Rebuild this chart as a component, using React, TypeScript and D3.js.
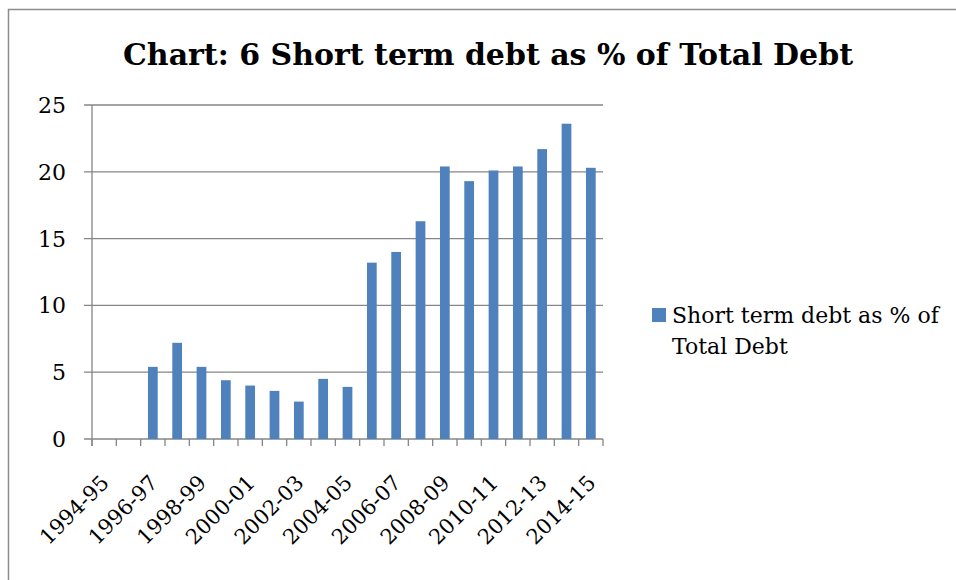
import React, { useEffect, useRef } from "react";
import * as d3 from "d3";

const years = [
  "1994-95", "1995-96", "1996-97", "1997-98", "1998-99", "1999-00", "2000-01",
  "2001-02", "2002-03", "2003-04", "2004-05", "2005-06", "2006-07", "2007-08",
  "2008-09", "2009-10", "2010-11", "2011-12", "2012-13", "2013-14", "2014-15",
];

// null = no value reported for that year
const shortTermShare: (number | null)[] = [
  null, null, 5.4, 7.2, 5.4, 4.4, 4.0, 3.6, 2.8, 4.5, 3.9,
  13.2, 14.0, 16.3, 20.4, 19.3, 20.1, 20.4, 21.7, 23.6, 20.3,
];

const yTicks = [0, 5, 10, 15, 20, 25];

const legendLines = ["Short term debt as % of", "Total Debt"];
const chartTitle = "Chart: 6 Short term debt as % of Total Debt";

const WIDTH = 956;
const HEIGHT = 580;
const margin = { top: 105, right: 353, bottom: 141, left: 92 };
const GRID = "#868686";
const BAR = "#4F81BD";
const FONT = "'DejaVu Serif', serif";

type Row = { year: string; value: number | null };

export default function App() {
  const ref = useRef<SVGSVGElement>(null);

  useEffect(() => {
    const svg = d3.select(ref.current!);
    svg.selectAll("*").remove();

    const rows: Row[] = years.map((year, i) => ({ year, value: shortTermShare[i] }));
    const innerW = WIDTH - margin.left - margin.right;
    const innerH = HEIGHT - margin.top - margin.bottom;

    const x = d3
      .scaleBand<string>()
      .domain(years)
      .range([margin.left, margin.left + innerW])
      .paddingInner(0.6)
      .paddingOuter(0.3);
    const step = x.step();

    const y = d3
      .scaleLinear()
      .domain([0, 25])
      .range([margin.top + innerH, margin.top]);

    // chart frame (cropped at right/bottom like the original)
    svg
      .append("rect")
      .attr("x", 8.5)
      .attr("y", 9.5)
      .attr("width", 1000)
      .attr("height", 1000)
      .attr("fill", "white")
      .attr("stroke", "#8c8c8c")
      .attr("stroke-width", 1.5);

    svg
      .append("text")
      .attr("x", 488)
      .attr("y", 65)
      .attr("text-anchor", "middle")
      .attr("font-family", FONT)
      .attr("font-weight", "bold")
      .attr("font-size", 30)
      .attr("textLength", 730)
      .attr("lengthAdjust", "spacingAndGlyphs")
      .text(chartTitle);

    // gridlines + y ticks
    svg
      .append("g")
      .attr("class", "grid")
      .selectAll("line")
      .data(yTicks)
      .enter()
      .append("line")
      .attr("x1", margin.left - 8)
      .attr("x2", margin.left + innerW)
      .attr("y1", (d) => y(d))
      .attr("y2", (d) => y(d))
      .attr("stroke", GRID)
      .attr("stroke-width", 1.3);

    svg
      .append("g")
      .attr("class", "y labels")
      .selectAll("text")
      .data(yTicks)
      .enter()
      .append("text")
      .attr("x", 66)
      .attr("y", (d) => y(d))
      .attr("dy", "0.36em")
      .attr("text-anchor", "end")
      .attr("font-family", FONT)
      .attr("font-size", 22)
      .attr("fill", "#000")
      .text((d) => String(d));

    // bars
    svg
      .append("g")
      .attr("class", "bars")
      .selectAll("rect")
      .data(rows.filter((r) => r.value !== null))
      .enter()
      .append("rect")
      .attr("x", (d) => x(d.year) ?? 0)
      .attr("y", (d) => y(d.value as number))
      .attr("width", x.bandwidth())
      .attr("height", (d) => y(0) - y(d.value as number))
      .attr("fill", BAR);

    // y axis line
    svg
      .append("line")
      .attr("x1", margin.left)
      .attr("x2", margin.left)
      .attr("y1", margin.top)
      .attr("y2", y(0) + 7)
      .attr("stroke", GRID)
      .attr("stroke-width", 1.3);

    // x tick marks sit on category boundaries
    const boundaries = years.map((yr) => (x(yr) ?? 0) - step * 0.3);
    boundaries.push(margin.left + innerW);
    svg
      .append("g")
      .attr("class", "x ticks")
      .selectAll("line")
      .data(boundaries)
      .enter()
      .append("line")
      .attr("x1", (d) => d)
      .attr("x2", (d) => d)
      .attr("y1", y(0))
      .attr("y2", y(0) + 7)
      .attr("stroke", GRID)
      .attr("stroke-width", 1.3);

    svg
      .append("g")
      .attr("class", "x labels")
      .selectAll("text")
      .data(years.filter((_, i) => i % 2 === 0))
      .enter()
      .append("text")
      .attr(
        "transform",
        (d) => `translate(${(x(d) ?? 0) + x.bandwidth() / 2 + 6},${y(0) + 45}) rotate(-45)`
      )
      .attr("text-anchor", "end")
      .attr("font-family", FONT)
      .attr("font-size", 21)
      .attr("fill", "#000")
      .text((d) => d);

    // legend
    const legend = svg.append("g").attr("class", "legend");
    legend
      .append("rect")
      .attr("x", 652)
      .attr("y", 308)
      .attr("width", 14)
      .attr("height", 14)
      .attr("fill", BAR);
    legend
      .append("text")
      .attr("font-family", FONT)
      .attr("font-size", 22)
      .attr("fill", "#000")
      .selectAll("tspan")
      .data(legendLines)
      .enter()
      .append("tspan")
      .attr("x", 672)
      .attr("y", (_, i) => 323 + i * 31)
      .text((d) => d);
  }, []);

  return (
    <svg
      ref={ref}
      width={WIDTH}
      height={HEIGHT}
      style={{ position: "absolute", left: 0, top: 0, background: "white" }}
    />
  );
}
